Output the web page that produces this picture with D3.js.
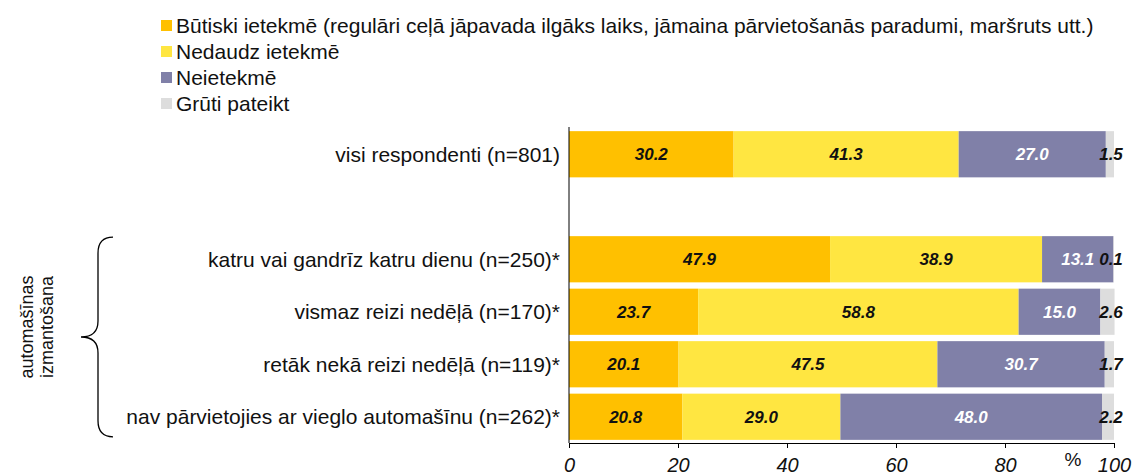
<!DOCTYPE html>
<html>
<head>
<meta charset="utf-8">
<script src="https://cdn.jsdelivr.net/npm/d3@7"></script>
<style>
  body { margin: 0; background: #fff; }
  svg { font-family: "Liberation Sans", Arial, sans-serif; }
</style>
</head>
<body>
<div id="chart"></div>
<script>
// Data
const categories = [
    "visi respondenti (n=801)",
    "",
    "katru vai gandrīz katru dienu (n=250)*",
    "vismaz reizi nedēļā (n=170)*",
    "retāk nekā reizi nedēļā (n=119)*",
    "nav pārvietojies ar vieglo automašīnu (n=262)*"
];
const seriesNames = [
    "Būtiski ietekmē (regulāri ceļā jāpavada ilgāks laiks, jāmaina pārvietošanās paradumi, maršruts utt.)",
    "Nedaudz ietekmē",
    "Neietekmē",
    "Grūti pateikt"
];
const butiski = [30.2, null, 47.9, 23.7, 20.1, 20.8];
const nedaudz = [41.3, null, 38.9, 58.8, 47.5, 29.0];
const neietekme = [27.0, null, 13.1, 15.0, 30.7, 48.0];
const gruti = [1.5, null, 0.1, 2.6, 1.7, 2.2];
const tickValues = [0, 20, 40, 60, 80, 100];
const groupLabel = ["automašīnas", "izmantošana"];

const colors = ["#FFC000", "#FFE641", "#8080A8", "#DDDDDD"];
const labelColors = ["#111", "#111", "#fff", "#111"];

const width = 1134, height = 476;
const svg = d3.select("#chart").append("svg")
    .attr("width", width)
    .attr("height", height);

const x = d3.scaleLinear().domain([0, 100]).range([569, 1114]);
const y = d3.scaleBand().domain(d3.range(categories.length)).range([128, 443]).paddingInner(0.12).paddingOuter(0.06);

const series = [butiski, nedaudz, neietekme, gruti];

// Bars
categories.forEach((cat, i) => {
    if (butiski[i] == null) return;
    let acc = 0;
    series.forEach((s, k) => {
        const v = s[i];
        const x0 = x(acc), x1 = x(acc + v);
        svg.append("rect")
            .attr("x", x0)
            .attr("y", y(i))
            .attr("width", x1 - x0)
            .attr("height", y.bandwidth())
            .attr("fill", colors[k]);
        acc += v;
    });
    // value labels
    acc = 0;
    series.forEach((s, k) => {
        const v = s[i];
        let cx = x(acc + v / 2);
        if (k === 3) cx = x(100) - 3;
        svg.append("text")
            .attr("x", cx)
            .attr("y", y(i) + y.bandwidth() / 2)
            .attr("dy", "0.36em")
            .attr("text-anchor", "middle")
            .style("font-size", "17px")
            .style("font-weight", "bold")
            .style("font-style", "italic")
            .style("fill", labelColors[k])
            .text(v.toFixed(1));
        acc += v;
    });
    // category label
    svg.append("text")
        .attr("x", 560)
        .attr("y", y(i) + y.bandwidth() / 2)
        .attr("dy", "0.36em")
        .attr("text-anchor", "end")
        .style("font-size", "21px")
        .style("fill", "#111")
        .text(cat);
});

// Axes
const xAxis = svg.append("g")
    .attr("transform", "translate(0,443)")
    .call(d3.axisBottom(x).tickValues(tickValues).tickSize(5).tickSizeOuter(0));
xAxis.select(".domain").attr("stroke", "#000");
xAxis.selectAll(".tick line").attr("stroke", "#000");
xAxis.selectAll(".tick text")
    .attr("y", 29)
    .attr("dy", 0)
    .style("font-family", "Liberation Sans, Arial, sans-serif")
    .style("font-size", "20px")
    .style("font-style", "italic")
    .style("fill", "#111");

svg.append("line")
    .attr("x1", 569).attr("x2", 569)
    .attr("y1", 127).attr("y2", 443)
    .attr("stroke", "#000");

svg.append("text")
    .attr("x", 1073)
    .attr("y", 466)
    .attr("text-anchor", "middle")
    .style("font-size", "19px")
    .style("fill", "#111")
    .text("%");

// Legend
const legend = svg.append("g");
seriesNames.forEach((name, k) => {
    const ly = 25 + k * 26;
    legend.append("rect")
        .attr("x", 161)
        .attr("y", ly - 5)
        .attr("width", 11)
        .attr("height", 11)
        .attr("fill", colors[k]);
    legend.append("text")
        .attr("x", 176)
        .attr("y", ly)
        .attr("dy", "0.36em")
        .style("font-size", "21px")
        .style("fill", "#111")
        .text(name);
});

// Brace for the car-use group
const bTop = y(2) + 1, bBot = y(5) + y.bandwidth() - 3, bMid = (bTop + bBot) / 2;
const bx = 113, bIn = 98, bTip = 81;
const brace = d3.path();
brace.moveTo(bx, bTop);
brace.quadraticCurveTo(bIn, bTop, bIn, bTop + 16);
brace.lineTo(bIn, bMid - 16);
brace.quadraticCurveTo(bIn, bMid, bTip, bMid);
brace.quadraticCurveTo(bIn, bMid, bIn, bMid + 16);
brace.lineTo(bIn, bBot - 16);
brace.quadraticCurveTo(bIn, bBot, bx, bBot);
svg.append("path")
    .attr("d", brace.toString())
    .attr("fill", "none")
    .attr("stroke", "#000")
    .attr("stroke-width", 1.3);

const gl = svg.append("text")
    .attr("transform", `translate(33,${bMid - 10}) rotate(-90)`)
    .attr("text-anchor", "middle")
    .style("font-size", "18px")
    .style("fill", "#111");
groupLabel.forEach((t, i) => {
    gl.append("tspan").attr("x", 0).attr("dy", i === 0 ? 0 : "1.1em").text(t);
});
</script>
</body>
</html>
